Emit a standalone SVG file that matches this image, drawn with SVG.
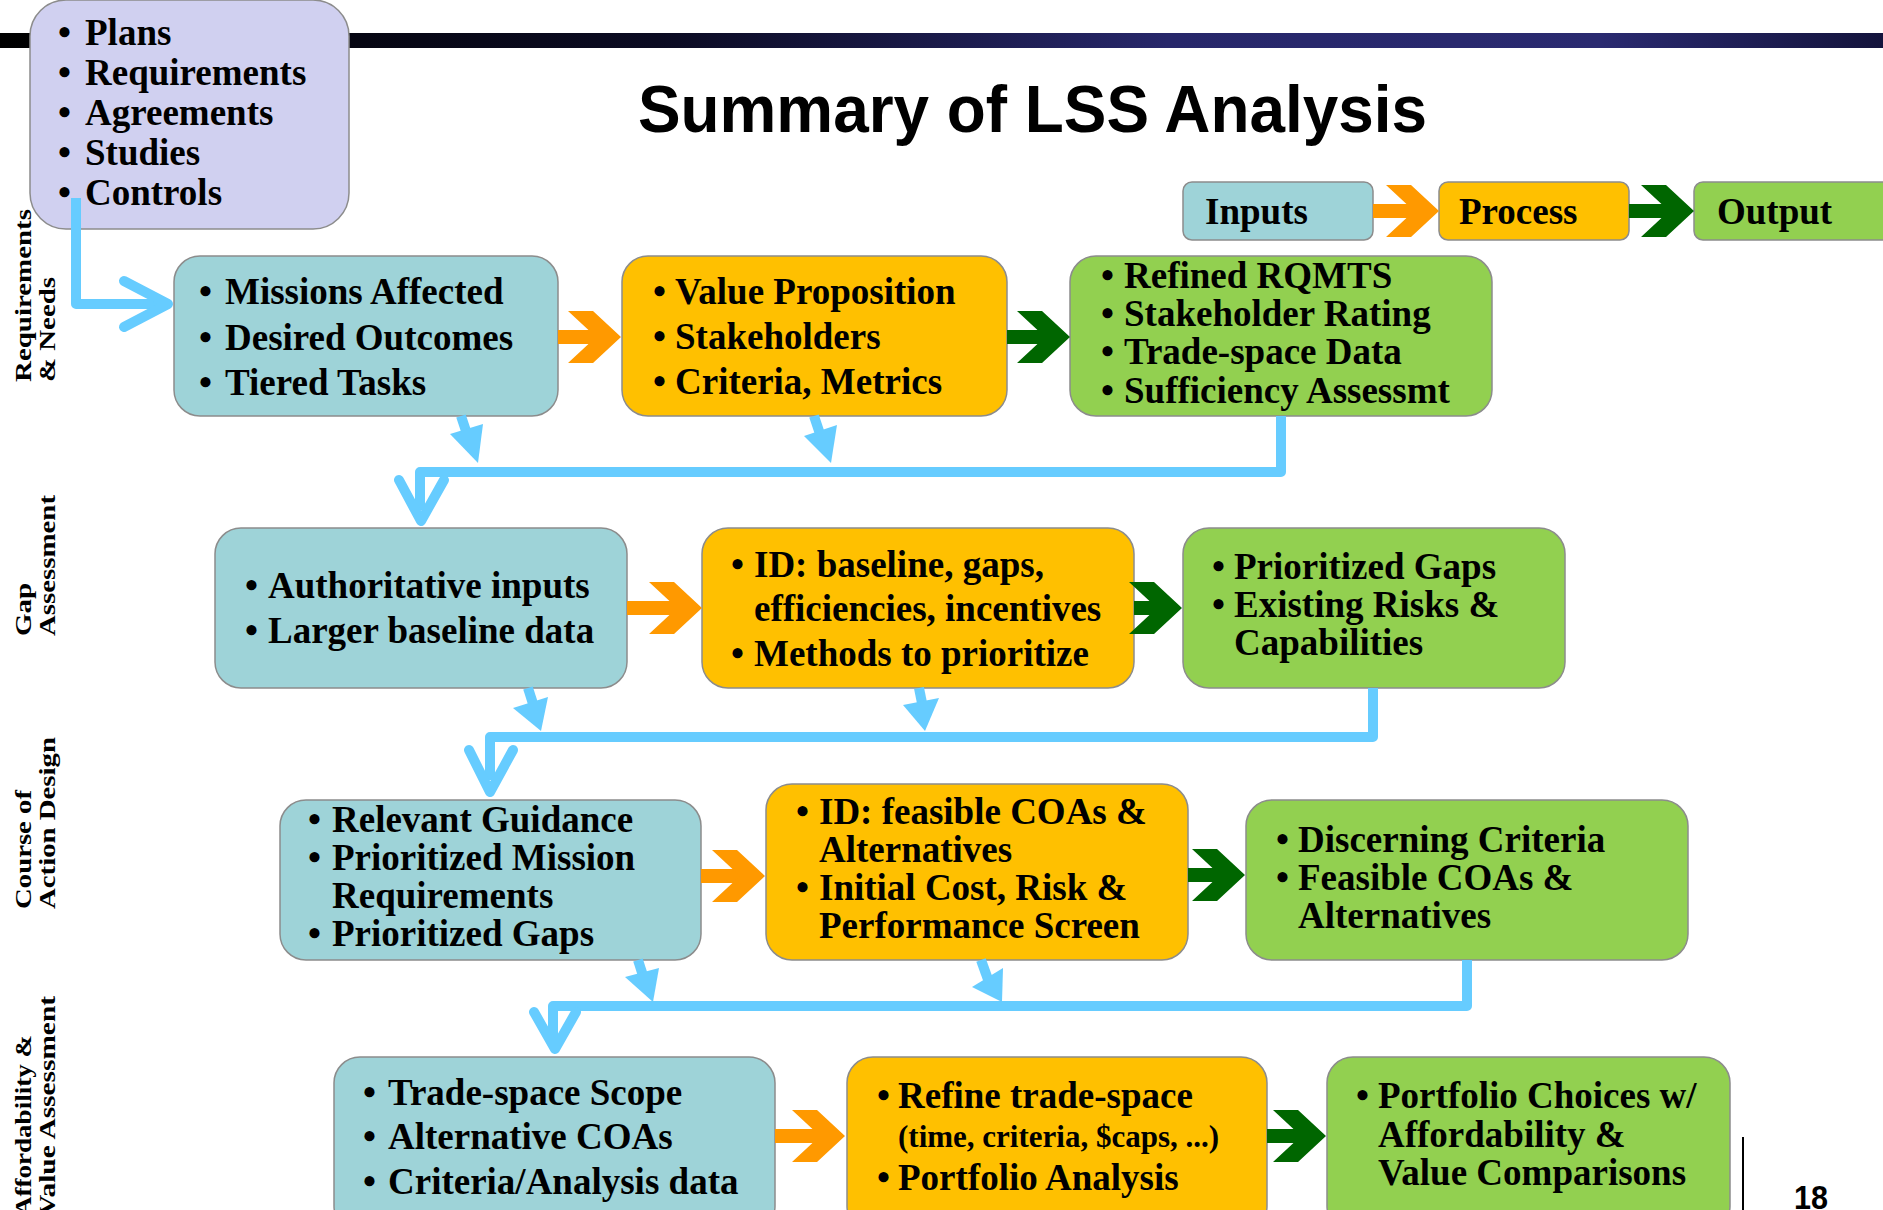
<svg xmlns="http://www.w3.org/2000/svg" xmlns:xlink="http://www.w3.org/1999/xlink" width="1883" height="1210" viewBox="0 0 1883 1210">
<style>
.t{font-family:"Liberation Serif","Times New Roman",serif;font-weight:bold;font-size:37px;fill:#000}
.sm{font-size:31px}
.lbl{font-family:"Liberation Serif","Times New Roman",serif;font-weight:bold;font-size:24px;fill:#000}
.box{stroke:#8c8c8c;stroke-width:1.5}
.req{fill:#d0d0f0}
.in{fill:#9ed3d8}
.pr{fill:#ffc000}
.out{fill:#92d050}
.oa{fill:#ff9900}
.ga{fill:#006600}
.bus{fill:none;stroke:#66ccff;stroke-width:10;stroke-linejoin:round;stroke-linecap:butt}
.vh{fill:none;stroke:#66ccff;stroke-width:10;stroke-linejoin:round;stroke-linecap:round}
.bh{fill:#66ccff}
</style>
<defs>
<linearGradient id="bar" x1="0" y1="0" x2="1" y2="0">
<stop offset="0" stop-color="#000000"/>
<stop offset="0.35" stop-color="#0b0b22"/>
<stop offset="0.62" stop-color="#27276a"/>
<stop offset="0.85" stop-color="#2a2a70"/>
<stop offset="1" stop-color="#14143c"/>
</linearGradient>
<path id="chev" d="M0,0 L-28,-26 L-53,-26 L-25,0 L-53,26 L-28,26 Z"/>
</defs>
<rect x="0" y="0" width="1883" height="1210" fill="#ffffff"/>
<rect x="0" y="33" width="1883" height="15" fill="url(#bar)"/>
<text x="638" y="132" font-family="Liberation Sans, Arial, sans-serif" font-weight="bold" font-size="66" textLength="789" lengthAdjust="spacingAndGlyphs">Summary of LSS Analysis</text>

<g id="labels">
<text class="lbl" transform="translate(31,382) rotate(-90)" textLength="173" lengthAdjust="spacingAndGlyphs">Requirements</text>
<text class="lbl" transform="translate(55,382) rotate(-90)" textLength="105" lengthAdjust="spacingAndGlyphs">&amp; Needs</text>
<text class="lbl" transform="translate(31,636) rotate(-90)" textLength="53" lengthAdjust="spacingAndGlyphs">Gap</text>
<text class="lbl" transform="translate(55,636) rotate(-90)" textLength="141" lengthAdjust="spacingAndGlyphs">Assessment</text>
<text class="lbl" transform="translate(31,909) rotate(-90)" textLength="119" lengthAdjust="spacingAndGlyphs">Course of</text>
<text class="lbl" transform="translate(55,909) rotate(-90)" textLength="172" lengthAdjust="spacingAndGlyphs">Action Design</text>
<text class="lbl" transform="translate(31,1216) rotate(-90)" textLength="181" lengthAdjust="spacingAndGlyphs">Affordability &amp;</text>
<text class="lbl" transform="translate(55,1216) rotate(-90)" textLength="220" lengthAdjust="spacingAndGlyphs">Value Assessment</text>
</g>

<g id="legend">
<g id="legend-inputs"><rect class="box in" x="1183" y="182" width="190" height="58" rx="9"/><text class="t" x="1205" y="224">Inputs</text></g>
<g id="legend-process"><rect class="box pr" x="1439" y="182" width="190" height="58" rx="9"/><text class="t" x="1459" y="224">Process</text></g>
<g id="legend-output"><rect class="box out" x="1694" y="182" width="210" height="58" rx="9"/><text class="t" x="1717" y="224">Output</text></g>
</g>

<g id="node-sources">
<rect class="box req" x="30" y="0" width="319" height="229" rx="36"/>
<text class="t"><tspan x="58" y="45">•</tspan><tspan x="85">Plans</tspan><tspan x="58" y="85">•</tspan><tspan x="85">Requirements</tspan><tspan x="58" y="125">•</tspan><tspan x="85">Agreements</tspan><tspan x="58" y="165">•</tspan><tspan x="85">Studies</tspan><tspan x="58" y="205">•</tspan><tspan x="85">Controls</tspan></text>
</g>

<g id="node-req-inputs">
<rect class="box in" x="174" y="256" width="384" height="160" rx="26"/>
<text class="t"><tspan x="199" y="304">•</tspan><tspan x="225">Missions Affected</tspan><tspan x="199" y="350">•</tspan><tspan x="225">Desired Outcomes</tspan><tspan x="199" y="395">•</tspan><tspan x="225">Tiered Tasks</tspan></text>
</g>
<g id="node-req-process">
<rect class="box pr" x="622" y="256" width="385" height="160" rx="26"/>
<text class="t"><tspan x="653" y="304">•</tspan><tspan x="675">Value Proposition</tspan><tspan x="653" y="349">•</tspan><tspan x="675">Stakeholders</tspan><tspan x="653" y="394">•</tspan><tspan x="675">Criteria, Metrics</tspan></text>
</g>
<g id="node-req-output">
<rect class="box out" x="1070" y="256" width="422" height="160" rx="26"/>
<text class="t"><tspan x="1101" y="288">•</tspan><tspan x="1124">Refined RQMTS</tspan><tspan x="1101" y="326">•</tspan><tspan x="1124">Stakeholder Rating</tspan><tspan x="1101" y="364">•</tspan><tspan x="1124">Trade-space Data</tspan><tspan x="1101" y="403">•</tspan><tspan x="1124">Sufficiency Assessmt</tspan></text>
</g>

<g id="node-gap-inputs">
<rect class="box in" x="215" y="528" width="412" height="160" rx="26"/>
<text class="t"><tspan x="245" y="598">•</tspan><tspan x="268">Authoritative inputs</tspan><tspan x="245" y="643">•</tspan><tspan x="268">Larger baseline data</tspan></text>
</g>
<g id="node-gap-process">
<rect class="box pr" x="702" y="528" width="432" height="160" rx="26"/>
<text class="t"><tspan x="731" y="577">•</tspan><tspan x="754">ID: baseline, gaps,</tspan><tspan x="754" y="621">efficiencies, incentives</tspan><tspan x="731" y="666">•</tspan><tspan x="754">Methods to prioritize</tspan></text>
</g>
<g id="node-gap-output">
<rect class="box out" x="1183" y="528" width="382" height="160" rx="26"/>
<text class="t"><tspan x="1212" y="579">•</tspan><tspan x="1234">Prioritized Gaps</tspan><tspan x="1212" y="617">•</tspan><tspan x="1234">Existing Risks &amp;</tspan><tspan x="1234" y="655">Capabilities</tspan></text>
</g>

<g id="node-coa-inputs">
<rect class="box in" x="280" y="800" width="421" height="160" rx="26"/>
<text class="t"><tspan x="308" y="832">•</tspan><tspan x="332">Relevant Guidance</tspan><tspan x="308" y="870">•</tspan><tspan x="332">Prioritized Mission</tspan><tspan x="332" y="908">Requirements</tspan><tspan x="308" y="946">•</tspan><tspan x="332">Prioritized Gaps</tspan></text>
</g>
<g id="node-coa-process">
<rect class="box pr" x="766" y="784" width="422" height="176" rx="26"/>
<text class="t"><tspan x="796" y="824">•</tspan><tspan x="819">ID: feasible COAs &amp;</tspan><tspan x="819" y="862">Alternatives</tspan><tspan x="796" y="900">•</tspan><tspan x="819">Initial Cost, Risk &amp;</tspan><tspan x="819" y="938">Performance Screen</tspan></text>
</g>
<g id="node-coa-output">
<rect class="box out" x="1246" y="800" width="442" height="160" rx="26"/>
<text class="t"><tspan x="1276" y="852">•</tspan><tspan x="1298">Discerning Criteria</tspan><tspan x="1276" y="890">•</tspan><tspan x="1298">Feasible COAs &amp;</tspan><tspan x="1298" y="928">Alternatives</tspan></text>
</g>

<g id="node-afford-inputs">
<rect class="box in" x="334" y="1057" width="441" height="175" rx="26"/>
<text class="t"><tspan x="363" y="1105">•</tspan><tspan x="388">Trade-space Scope</tspan><tspan x="363" y="1149">•</tspan><tspan x="388">Alternative COAs</tspan><tspan x="363" y="1194">•</tspan><tspan x="388">Criteria/Analysis data</tspan></text>
</g>
<g id="node-afford-process">
<rect class="box pr" x="847" y="1057" width="420" height="175" rx="26"/>
<text class="t"><tspan x="877" y="1108">•</tspan><tspan x="898">Refine trade-space</tspan><tspan class="sm" x="898" y="1147">(time, criteria, $caps, ...)</tspan><tspan x="877" y="1190">•</tspan><tspan x="898">Portfolio Analysis</tspan></text>
</g>
<g id="node-afford-output">
<rect class="box out" x="1327" y="1057" width="403" height="175" rx="26"/>
<text class="t"><tspan x="1356" y="1108">•</tspan><tspan x="1378">Portfolio Choices w/</tspan><tspan x="1378" y="1147">Affordability &amp;</tspan><tspan x="1378" y="1185">Value Comparisons</tspan></text>
</g>

<g id="connectors">
<!-- legend arrows -->
<g class="oa"><rect x="1373" y="204" width="46" height="14"/><use xlink:href="#chev" transform="translate(1439,211)"/></g>
<g class="ga"><rect x="1629" y="204" width="45" height="14"/><use xlink:href="#chev" transform="translate(1694,211)"/></g>
<!-- row arrows -->
<g class="oa"><rect x="558" y="330" width="43" height="14"/><use xlink:href="#chev" transform="translate(621,337)"/></g>
<g class="ga"><rect x="1007" y="330" width="43" height="14"/><use xlink:href="#chev" transform="translate(1070,337)"/></g>
<g class="oa"><rect x="627" y="601" width="55" height="14"/><use xlink:href="#chev" transform="translate(702,608)"/></g>
<g class="ga"><rect x="1134" y="601" width="28" height="14"/><use xlink:href="#chev" transform="translate(1182,608)"/></g>
<g class="oa"><rect x="701" y="869" width="44" height="14"/><use xlink:href="#chev" transform="translate(765,876)"/></g>
<g class="ga"><rect x="1188" y="868" width="36" height="14"/><use xlink:href="#chev" transform="translate(1245,875)"/></g>
<g class="oa"><rect x="775" y="1129" width="50" height="14"/><use xlink:href="#chev" transform="translate(845,1136)"/></g>
<g class="ga"><rect x="1267" y="1129" width="39" height="14"/><use xlink:href="#chev" transform="translate(1326,1136)"/></g>
<!-- blue feed from sources -->
<polyline class="bus" points="76,198 76,304 165,304"/>
<polyline class="vh" points="124,281 168,304 124,327"/>
<!-- bus 1 -->
<line class="bus" x1="461" y1="416" x2="469" y2="440"/>
<polygon class="bh" points="450,434 483,424 478,463"/>
<line class="bus" x1="814" y1="416" x2="822" y2="440"/>
<polygon class="bh" points="804,436 837,425 831,463"/>
<polyline class="bus" points="1281,416 1281,472 420,472 420,510"/>
<polyline class="vh" points="399,480 421,521 444,480"/>
<!-- bus 2 -->
<line class="bus" x1="528" y1="688" x2="535" y2="710"/>
<polygon class="bh" points="513,708 548,697 541,731"/>
<line class="bus" x1="919" y1="688" x2="923" y2="708"/>
<polygon class="bh" points="903,705 939,698 925,731"/>
<polyline class="bus" points="1373,688 1373,737 490,737 490,780"/>
<polyline class="vh" points="469,750 490,792 513,750"/>
<!-- bus 3 -->
<line class="bus" x1="638" y1="960" x2="645" y2="982"/>
<polygon class="bh" points="625,977 659,968 653,1002"/>
<line class="bus" x1="981" y1="960" x2="990" y2="985"/>
<polygon class="bh" points="972,987 1003,968 1002,1002"/>
<polyline class="bus" points="1467,960 1467,1006 553,1006 553,1040"/>
<polyline class="vh" points="534,1012 555,1049 576,1012"/>
</g>

<line x1="1743" y1="1137" x2="1743" y2="1210" stroke="#000" stroke-width="2"/>
<text x="1794" y="1209" font-family="Liberation Sans, Arial, sans-serif" font-weight="bold" font-size="33" textLength="34" lengthAdjust="spacingAndGlyphs">18</text>
</svg>
